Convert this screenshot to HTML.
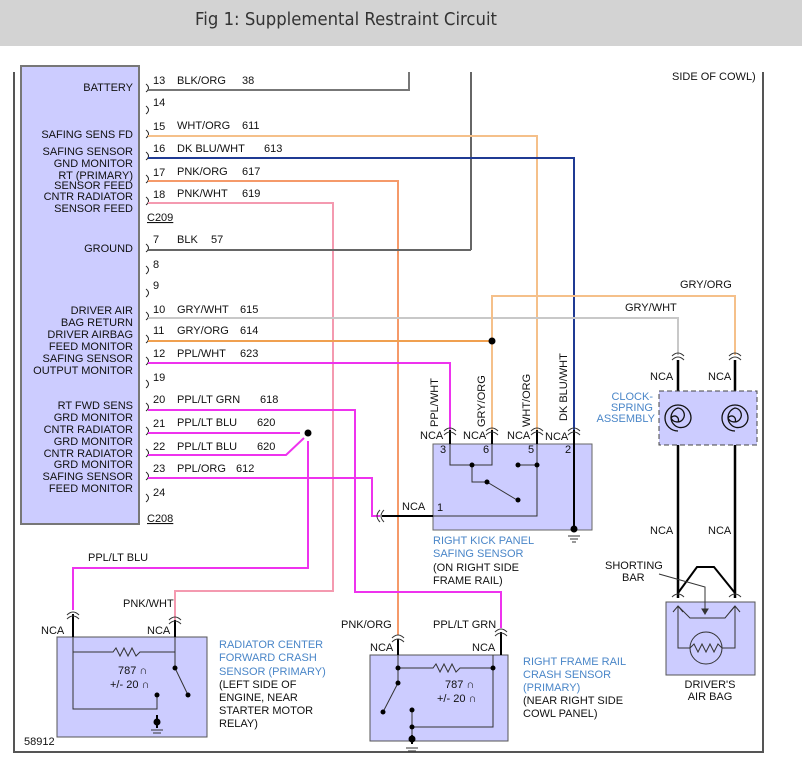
<!DOCTYPE html>
<html><head><meta charset="utf-8"><style>
body{margin:0;background:#fff;}
svg{display:block;font-family:"Liberation Sans",Arial,sans-serif;}
.t{font-size:11px;fill:#111;}
.b{font-size:11px;fill:#4a86c8;}
</style></head><body>
<svg width="802" height="764" viewBox="0 0 802 764" xmlns="http://www.w3.org/2000/svg">
<rect x="0" y="0" width="802" height="46" fill="#d3d3d3"/>
<text x="195" y="25" font-size="18" fill="#333" textLength="302" lengthAdjust="spacingAndGlyphs" font-family="'DejaVu Sans','Liberation Sans',sans-serif">Fig 1: Supplemental Restraint Circuit</text>

<!-- frame -->
<line x1="14" y1="72" x2="14" y2="753" stroke="#555" stroke-width="2"/>
<line x1="763" y1="72" x2="763" y2="753" stroke="#555" stroke-width="2"/>
<line x1="14" y1="752" x2="764" y2="752" stroke="#555" stroke-width="2"/>
<text class="t" x="672" y="80">SIDE OF COWL)</text>
<line x1="471" y1="72" x2="471" y2="250" stroke="#666" stroke-width="2"/>

<!-- module -->
<rect x="21" y="66" width="118" height="458" fill="#ccccff" stroke="#777" stroke-width="2"/>
<g class="t">
<text x="133" y="91" text-anchor="end">BATTERY</text>
<text x="133" y="138" text-anchor="end">SAFING SENS FD</text>
<text x="133" y="155" text-anchor="end">SAFING SENSOR</text>
<text x="133" y="167" text-anchor="end">GND MONITOR</text>
<text x="133" y="179" text-anchor="end">RT (PRIMARY)</text>
<text x="133" y="189" text-anchor="end">SENSOR FEED</text>
<text x="133" y="200" text-anchor="end">CNTR RADIATOR</text>
<text x="133" y="212" text-anchor="end">SENSOR FEED</text>
<text x="133" y="252" text-anchor="end">GROUND</text>
<text x="133" y="314" text-anchor="end">DRIVER AIR</text>
<text x="133" y="326" text-anchor="end">BAG RETURN</text>
<text x="133" y="338" text-anchor="end">DRIVER AIRBAG</text>
<text x="133" y="350" text-anchor="end">FEED MONITOR</text>
<text x="133" y="362" text-anchor="end">SAFING SENSOR</text>
<text x="133" y="374" text-anchor="end">OUTPUT MONITOR</text>
<text x="133" y="409" text-anchor="end">RT FWD SENS</text>
<text x="133" y="421" text-anchor="end">GRD MONITOR</text>
<text x="133" y="433" text-anchor="end">CNTR RADIATOR</text>
<text x="133" y="445" text-anchor="end">GRD MONITOR</text>
<text x="133" y="457" text-anchor="end">CNTR RADIATOR</text>
<text x="133" y="468" text-anchor="end">GRD MONITOR</text>
<text x="133" y="480" text-anchor="end">SAFING SENSOR</text>
<text x="133" y="492" text-anchor="end">FEED MONITOR</text>
</g>

<g fill="none" stroke="#222" stroke-width="1">
<path d="M146 84 q5 4 0 8M146 106 q5 4 0 8M146 130 q5 4 0 8M146 152 q5 4 0 8M146 175 q5 4 0 8M146 197 q5 4 0 8M146 244 q5 4 0 8M146 266 q5 4 0 8M146 289 q5 4 0 8M146 312 q5 4 0 8M146 335 q5 4 0 8M146 357 q5 4 0 8M146 380 q5 4 0 8M146 403 q5 4 0 8M146 427 q5 4 0 8M146 449 q5 4 0 8M146 472 q5 4 0 8M146 494 q5 4 0 8"/>
</g>
<g class="t">
<text x="153" y="84">13</text><text x="177" y="84">BLK/ORG</text><text x="242" y="84">38</text>
<text x="153" y="106">14</text>
<text x="153" y="130">15</text><text x="177" y="129">WHT/ORG</text><text x="242" y="129">611</text>
<text x="153" y="152">16</text><text x="177" y="152">DK BLU/WHT</text><text x="264" y="152">613</text>
<text x="153" y="176">17</text><text x="177" y="175">PNK/ORG</text><text x="242" y="175">617</text>
<text x="153" y="198">18</text><text x="177" y="197">PNK/WHT</text><text x="242" y="197">619</text>
<text x="147" y="221" text-decoration="underline">C209</text>
<text x="153" y="243">7</text><text x="177" y="243">BLK</text><text x="211" y="243">57</text>
<text x="153" y="268">8</text>
<text x="153" y="289">9</text>
<text x="153" y="313">10</text><text x="177" y="313">GRY/WHT</text><text x="240" y="313">615</text>
<text x="153" y="334">11</text><text x="177" y="334">GRY/ORG</text><text x="240" y="334">614</text>
<text x="153" y="357">12</text><text x="177" y="357">PPL/WHT</text><text x="240" y="357">623</text>
<text x="153" y="381">19</text>
<text x="153" y="403">20</text><text x="177" y="403">PPL/LT GRN</text><text x="260" y="403">618</text>
<text x="153" y="427">21</text><text x="177" y="426">PPL/LT BLU</text><text x="257" y="426">620</text>
<text x="153" y="450">22</text><text x="177" y="450">PPL/LT BLU</text><text x="257" y="450">620</text>
<text x="153" y="472">23</text><text x="177" y="472">PPL/ORG</text><text x="236" y="472">612</text>
<text x="153" y="496">24</text>
<text x="147" y="522" text-decoration="underline">C208</text>
</g>

<g fill="none" stroke-width="2">
<polyline points="148,90 409,90 409,72" stroke="#777"/>
<polyline points="148,136 537,136 537,458" stroke="#f5c08a"/>
<polyline points="148,158 574,158 574,530" stroke="#1f3a93"/>
<polyline points="148,181 398,181 398,635" stroke="#f59a6a"/>
<polyline points="148,203 333,203 333,591 175,591 175,620" stroke="#f49ab0"/>
<polyline points="148,250 471,250" stroke="#666"/>
<polyline points="148,318 678,318 678,355" stroke="#c8c8c8"/>
<polyline points="148,341 492,341" stroke="#f0a050"/>
<polyline points="492,341 492,296 735,296 735,355" stroke="#f5c08a"/>
<polyline points="492,341 492,458" stroke="#f5c08a"/>
<polyline points="148,363 450,363 450,430" stroke="#ee33ee"/>
<polyline points="148,410 355,410 355,592 501,592 501,628" stroke="#ee33ee"/>
<polyline points="148,433 300,433" stroke="#ee33ee"/>
<polyline points="148,455 286,455 304,438" stroke="#ee33ee"/>
<polyline points="308,441 308,568 73,568 73,610" stroke="#ee33ee"/>
<polyline points="148,478 372,478 372,516 380,516" stroke="#ee33ee"/>
</g>
<circle cx="308" cy="433" r="3.5" fill="#000"/>
<circle cx="492" cy="341" r="3.5" fill="#000"/>
<text class="t" x="680" y="288">GRY/ORG</text>
<text class="t" x="625" y="311">GRY/WHT</text>
<text class="t" x="88" y="561">PPL/LT BLU</text>
<text class="t" x="123" y="607">PNK/WHT</text>
<text class="t" x="341" y="628">PNK/ORG</text>
<text class="t" x="433" y="628">PPL/LT GRN</text>

<!-- kick panel sensor -->
<rect x="433" y="444" width="159" height="86" fill="#ccccff" stroke="#666" stroke-width="1"/>
<g stroke="#000" fill="none" stroke-width="2">
<line x1="450" y1="430" x2="450" y2="444"/><line x1="492" y1="430" x2="492" y2="444"/><line x1="537" y1="430" x2="537" y2="444"/><line x1="574" y1="430" x2="574" y2="532"/>
<line x1="382" y1="516" x2="433" y2="516"/>
</g>
<g stroke="#333" fill="none" stroke-width="1">
<path d="M444 431 q6 -6 12 0M444 435 q6 -6 12 0M486 431 q6 -6 12 0M486 435 q6 -6 12 0M531 431 q6 -6 12 0M531 435 q6 -6 12 0M568 431 q6 -6 12 0M568 435 q6 -6 12 0"/>
<path d="M384 510 q-6 6 0 12M380 510 q-6 6 0 12"/>
<polyline points="450,444 450,465 492,465 492,444"/>
<polyline points="472,465 472,482 487,482 517,500"/>
<polyline points="518,465 537,465 537,444"/>
<polyline points="433,516 537,516 537,465"/>
<line x1="568" y1="536" x2="580" y2="536"/><line x1="570" y1="539" x2="578" y2="539"/><line x1="572" y1="542" x2="576" y2="542"/>
</g>
<g fill="#000"><circle cx="472" cy="465" r="2.5"/><circle cx="487" cy="482" r="2.5"/><circle cx="518" cy="500" r="2.5"/><circle cx="518" cy="465" r="2.5"/><circle cx="537" cy="465" r="2.5"/><circle cx="574" cy="529" r="3.5"/></g>
<g class="t"><text x="420" y="439">NCA</text><text x="463" y="439">NCA</text><text x="507" y="439">NCA</text><text x="545" y="440">NCA</text>
<text x="440" y="453">3</text><text x="483" y="453">6</text><text x="528" y="453">5</text><text x="565" y="453">2</text><text x="437" y="511">1</text><text x="402" y="510">NCA</text>
<text transform="translate(438,427) rotate(-90)">PPL/WHT</text>
<text transform="translate(485,427) rotate(-90)">GRY/ORG</text>
<text transform="translate(530,427) rotate(-90)">WHT/ORG</text>
<text transform="translate(567,421) rotate(-90)">DK BLU/WHT</text>
</g>
<text class="b" x="433" y="544">RIGHT KICK PANEL</text>
<text class="b" x="433" y="557">SAFING SENSOR</text>
<text class="t" x="433" y="571">(ON RIGHT SIDE</text>
<text class="t" x="433" y="584">FRAME RAIL)</text>

<!-- clockspring -->
<g stroke="#000" stroke-width="2.5" fill="none"><line x1="678" y1="360" x2="678" y2="598"/><line x1="735" y1="360" x2="735" y2="598"/></g>
<g stroke="#333" fill="none" stroke-width="1">
<path d="M672 356 q6 -6 12 0M672 360 q6 -6 12 0M729 356 q6 -6 12 0M729 360 q6 -6 12 0"/>
</g>
<rect x="659" y="391" width="98" height="54" fill="#ccccff" stroke="#444" stroke-dasharray="5,3"/>
<g stroke="#111" fill="none" stroke-width="1.3">
<path d="M678 431 A13 13 0 1 1 691 418 A10 10 0 1 1 678 408 A7 7 0 1 1 671 418 A4 4 0 1 1 678 422"/>
<path d="M735 431 A13 13 0 1 1 748 418 A10 10 0 1 1 735 408 A7 7 0 1 1 728 418 A4 4 0 1 1 735 422"/>
</g>
<g class="t"><text x="650" y="380">NCA</text><text x="708" y="380">NCA</text><text x="650" y="534">NCA</text><text x="708" y="534">NCA</text>
<text x="605" y="569">SHORTING</text><text x="622" y="581">BAR</text></g>
<text class="b" x="653" y="400" text-anchor="end">CLOCK-</text>
<text class="b" x="653" y="411" text-anchor="end">SPRING</text>
<text class="b" x="655" y="422" text-anchor="end">ASSEMBLY</text>

<!-- airbag -->
<polyline points="678,593 697,567 714,567 735,593" stroke="#000" stroke-width="2" fill="none"/>
<rect x="666" y="602" width="89" height="73" fill="#ccccff" stroke="#555"/>
<g stroke="#333" fill="none" stroke-width="1">
<path d="M672 597 q6 -6 12 0M729 597 q6 -6 12 0"/>
<polyline points="659,574 705,587 705,610"/>
<polygon points="702,609 708,609 705,614" fill="#333"/>
<polyline points="678,606 678,648 690,648"/><polyline points="735,606 735,648 722,648"/>
<polyline points="678,606 690,618 725,618 735,606"/>
<path d="M673 612 l5 -6 5 6M730 612 l5 -6 5 6"/>
<circle cx="706" cy="648" r="16"/>
<polyline points="690,648 694,644 698,652 702,644 706,652 710,644 714,652 718,644 722,648"/>
</g>
<text class="t" x="710" y="688" text-anchor="middle">DRIVER'S</text>
<text class="t" x="710" y="700" text-anchor="middle">AIR BAG</text>

<!-- radiator sensor -->
<rect x="57" y="637" width="150" height="100" fill="#ccccff" stroke="#555"/>
<g stroke="#000" stroke-width="2"><line x1="73" y1="614" x2="73" y2="637"/><line x1="175" y1="620" x2="175" y2="637"/><line x1="157" y1="715" x2="157" y2="728"/></g>
<g stroke="#333" fill="none" stroke-width="1">
<path d="M67 615 q6 -6 12 0M67 619 q6 -6 12 0M169 620 q6 -6 12 0M169 624 q6 -6 12 0"/>
<polyline points="73,637 73,709 157,709 157,695"/>
<polyline points="73,652 113,652 116,648 120,656 124,648 128,656 132,648 136,656 140,652 175,652 175,637"/>
<polyline points="175,652 175,668 188,695"/>
<line x1="151" y1="730" x2="163" y2="730"/><line x1="153" y1="733" x2="161" y2="733"/>
</g>
<g fill="#000"><circle cx="175" cy="668" r="2.5"/><circle cx="188" cy="695" r="2.5"/><circle cx="157" cy="695" r="2.5"/><circle cx="157" cy="722" r="3.5"/></g>
<g class="t"><text x="41" y="634">NCA</text><text x="147" y="634">NCA</text>
<text x="118" y="674">787 ∩</text><text x="110" y="688">+/- 20 ∩</text></g>
<text class="b" x="219" y="648">RADIATOR CENTER</text>
<text class="b" x="219" y="661">FORWARD CRASH</text>
<text class="b" x="219" y="675">SENSOR (PRIMARY)</text>
<g class="t"><text x="219" y="688">(LEFT SIDE OF</text><text x="219" y="701">ENGINE, NEAR</text><text x="219" y="714">STARTER MOTOR</text><text x="219" y="727">RELAY)</text></g>

<!-- right frame rail sensor -->
<rect x="370" y="655" width="138" height="86" fill="#ccccff" stroke="#555"/>
<g stroke="#000" stroke-width="2"><line x1="398" y1="639" x2="398" y2="655"/><line x1="501" y1="632" x2="501" y2="655"/><line x1="412" y1="735" x2="412" y2="744"/></g>
<g stroke="#333" fill="none" stroke-width="1">
<path d="M392 638 q6 -6 12 0M392 642 q6 -6 12 0M495 632 q6 -6 12 0M495 636 q6 -6 12 0"/>
<polyline points="398,655 398,668 433,668 436,664 440,672 444,664 448,672 452,664 456,672 460,668 493,668 493,655"/>
<polyline points="398,668 398,683 383,712"/>
<polyline points="493,668 493,727 412,727"/>
<line x1="412" y1="710" x2="412" y2="737"/>
<line x1="406" y1="748" x2="418" y2="748"/><line x1="408" y1="751" x2="416" y2="751"/>
</g>
<g fill="#000"><circle cx="398" cy="668" r="2.5"/><circle cx="493" cy="668" r="2.5"/><circle cx="398" cy="683" r="2.5"/><circle cx="383" cy="712" r="2.5"/><circle cx="412" cy="710" r="2.5"/><circle cx="412" cy="727" r="2.5"/><circle cx="412" cy="739" r="3.5"/></g>
<g class="t"><text x="370" y="651">NCA</text><text x="472" y="651">NCA</text>
<text x="445" y="688">787 ∩</text><text x="437" y="702">+/- 20 ∩</text></g>
<text class="b" x="523" y="665">RIGHT FRAME RAIL</text>
<text class="b" x="523" y="678">CRASH SENSOR</text>
<text class="b" x="523" y="691">(PRIMARY)</text>
<g class="t"><text x="523" y="704">(NEAR RIGHT SIDE</text><text x="523" y="717">COWL PANEL)</text></g>

<text class="t" x="24" y="745">58912</text>
</svg>
</body></html>
